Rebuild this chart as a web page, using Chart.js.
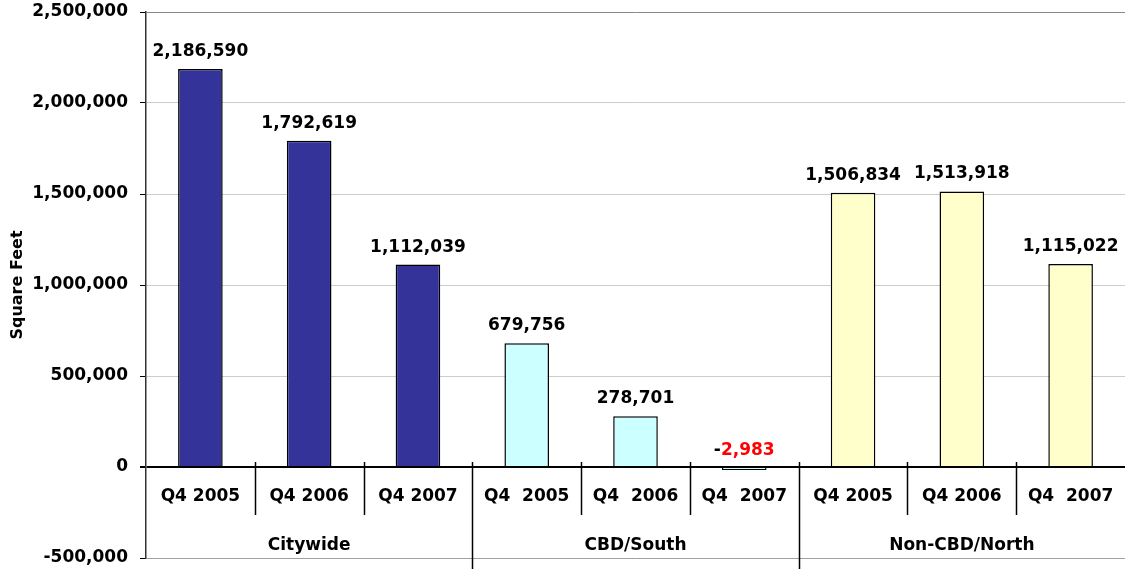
<!DOCTYPE html>
<html>
<head>
<meta charset="utf-8">
<script src="https://cdn.jsdelivr.net/npm/chart.js@4"></script>
<style>
  html, body { margin: 0; padding: 0; background: #fff; }
  #wrap { width: 1125px; height: 569px; position: relative; }
</style>
</head>
<body>
<div id="wrap"><canvas id="absorption"></canvas></div>
<script>
const groups = ["Citywide", "CBD/South", "Non-CBD/North"];
const periods = [
    ["Q4 2005", "Q4 2006", "Q4 2007"],
    ["Q4  2005", "Q4  2006", "Q4  2007"],
    ["Q4 2005", "Q4 2006", "Q4  2007"]
];
const citywide    = [2186590, 1792619, 1112039];
const cbdSouth    = [679756, 278701, -2983];
const nonCbdNorth = [1506834, 1513918, 1115022];
const groupColors = ["#333399", "#ccffff", "#ffffcc"];
const yTicks = [-500000, 0, 500000, 1000000, 1500000, 2000000, 2500000];

const FONT = "'DejaVu Sans', Verdana, sans-serif";
const values = [...citywide, ...cbdSouth, ...nonCbdNorth];
const labels = periods.flat();
const colors = groupColors.flatMap(c => [c, c, c]);
const fmt = v => Math.abs(v).toLocaleString("en-US");

// values above bars, two-row category axis drawn across the zero line
const overlay = {
    id: "overlay",
    afterDatasetsDraw(chart) {
        const ctx = chart.ctx;
        const x = chart.scales.x, y = chart.scales.y;
        const meta = chart.getDatasetMeta(0);
        ctx.save();
        ctx.font = "bold 17px " + FONT;
        ctx.textBaseline = "bottom";
        meta.data.forEach((bar, i) => {
            const v = values[i];
            const top = Math.min(bar.y, bar.base) - 9;
            if (v < 0) {
                const a = "-", b = fmt(v);
                const wa = ctx.measureText(a).width, wb = ctx.measureText(b).width;
                const left = bar.x - (wa + wb) / 2;
                ctx.textAlign = "left";
                ctx.fillStyle = "#000";
                ctx.fillText(a, left, top);
                ctx.fillStyle = "#ff0000";
                ctx.fillText(b, left + wa, top);
            } else {
                ctx.textAlign = "center";
                ctx.fillStyle = "#000";
                ctx.fillText(fmt(v), bar.x, top);
            }
        });

        const zero = y.getPixelForValue(0);
        const half = (x.getPixelForValue(1) - x.getPixelForValue(0)) / 2;
        ctx.strokeStyle = "#000";
        ctx.lineWidth = 1.5;
        for (let i = 1; i < labels.length; i++) {
            const sx = Math.round(x.getPixelForValue(i) - half) + 0.5;
            ctx.beginPath();
            ctx.moveTo(sx, zero - 5);
            ctx.lineTo(sx, i % 3 === 0 ? chart.height : zero + 48);
            ctx.stroke();
        }
        ctx.textAlign = "center";
        ctx.textBaseline = "middle";
        ctx.fillStyle = "#000";
        labels.forEach((l, i) => ctx.fillText(l, x.getPixelForValue(i), zero + 30));
        groups.forEach((g, gi) => ctx.fillText(g, x.getPixelForValue(gi * 3 + 1), zero + 79));
        ctx.restore();
    }
};

new Chart(document.getElementById("absorption"), {
    type: "bar",
    data: {
        labels: labels,
        datasets: [{
            data: values,
            backgroundColor: colors,
            borderColor: "#000",
            borderWidth: 1.5,
            barPercentage: 0.41,
            categoryPercentage: 1,
            minBarLength: 3
        }]
    },
    options: {
        responsive: true,
        maintainAspectRatio: false,
        animation: false,
        layout: { padding: { top: 12, bottom: 11, right: 0, left: 0 } },
        plugins: { legend: { display: false }, tooltip: { enabled: false } },
        scales: {
            x: { display: false },
            y: {
                min: -500000, max: 2500000,
                afterFit: s => { s.width = 146; s.paddingTop = 0; s.paddingBottom = 0; },
                afterBuildTicks: s => { s.ticks = yTicks.map(v => ({ value: v })); },
                border: { color: "#333", width: 1.5 },
                grid: {
                    tickLength: 6,
                    tickColor: "#000",
                    color: c => c.tick.value === 0 ? "#000" : (c.tick.value === 2500000 ? "#888" : (c.tick.value === -500000 ? "#a0a0a0" : "#cccccc")),
                    lineWidth: c => c.tick.value === 0 ? 2 : 1
                },
                ticks: {
                    padding: 12,
                    color: "#000",
                    font: { family: FONT, size: 17, weight: "bold" },
                    callback: v => v.toLocaleString("en-US")
                },
                title: {
                    display: true,
                    text: "Square Feet",
                    color: "#000",
                    padding: { top: 8, bottom: 0 },
                    font: { family: FONT, size: 16, weight: "bold" }
                }
            }
        }
    },
    plugins: [overlay]
});
</script>
</body>
</html>
